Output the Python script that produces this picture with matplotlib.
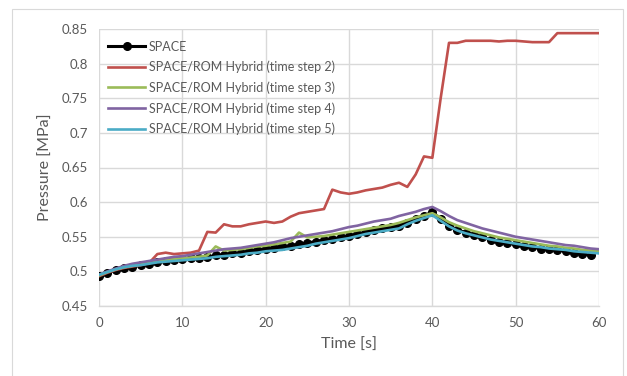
import matplotlib
matplotlib.use("Agg")
import matplotlib.pyplot as plt
from matplotlib.patches import Rectangle

# ── Data ──────────────────────────────────────────────────────────────────────
t_space = list(range(0, 60))
space = [0.493, 0.498, 0.502, 0.505, 0.507, 0.509, 0.511, 0.513, 0.515, 0.517,
         0.518, 0.519, 0.520, 0.521, 0.523, 0.524, 0.526, 0.527, 0.529, 0.531,
         0.533, 0.534, 0.536, 0.537, 0.539, 0.541, 0.543, 0.545, 0.547, 0.549,
         0.551, 0.554, 0.557, 0.560, 0.562, 0.564, 0.566, 0.570, 0.576, 0.580,
         0.586, 0.575, 0.566, 0.560, 0.556, 0.553, 0.549, 0.546, 0.543, 0.541,
         0.539, 0.537, 0.535, 0.533, 0.532, 0.531, 0.529, 0.527, 0.525, 0.523]

t_rom = list(range(0, 61))
rom_ts2 = [0.493, 0.498, 0.502, 0.505, 0.507, 0.509, 0.512, 0.525, 0.527, 0.525,
           0.526, 0.527, 0.530, 0.557, 0.556, 0.568, 0.565, 0.565, 0.568, 0.570,
           0.572, 0.570, 0.572, 0.579, 0.584, 0.586, 0.588, 0.590, 0.618, 0.614,
           0.612, 0.614, 0.617, 0.619, 0.621, 0.625, 0.628, 0.622, 0.640, 0.666,
           0.664, 0.750, 0.830, 0.830, 0.833, 0.833, 0.833, 0.833, 0.832, 0.833,
           0.833, 0.832, 0.831, 0.831, 0.831, 0.844, 0.844, 0.844, 0.844, 0.844,
           0.844]
rom_ts3 = [0.494, 0.499, 0.503, 0.506, 0.508, 0.510, 0.512, 0.514, 0.516, 0.518,
           0.519, 0.520, 0.521, 0.523, 0.536, 0.530, 0.531, 0.532, 0.534, 0.536,
           0.537, 0.539, 0.541, 0.543, 0.556, 0.549, 0.550, 0.551, 0.553, 0.555,
           0.557, 0.559, 0.561, 0.563, 0.565, 0.567, 0.570, 0.574, 0.578, 0.581,
           0.584, 0.578, 0.571, 0.566, 0.562, 0.558, 0.555, 0.552, 0.549, 0.547,
           0.545, 0.543, 0.541, 0.539, 0.537, 0.536, 0.534, 0.533, 0.531, 0.530,
           0.529]
rom_ts4 = [0.495, 0.500, 0.504, 0.508, 0.511, 0.513, 0.515, 0.517, 0.519, 0.521,
           0.522, 0.524, 0.526, 0.528, 0.530, 0.532, 0.533, 0.534, 0.536, 0.538,
           0.540, 0.542, 0.545, 0.548, 0.550, 0.552, 0.554, 0.556, 0.558, 0.561,
           0.564, 0.566, 0.569, 0.572, 0.574, 0.576, 0.580, 0.583, 0.586, 0.590,
           0.593, 0.587, 0.580, 0.574, 0.570, 0.566, 0.562, 0.559, 0.556, 0.553,
           0.550, 0.548, 0.546, 0.544, 0.542, 0.540, 0.538, 0.537, 0.535, 0.533,
           0.532]
rom_ts5 = [0.495, 0.499, 0.503, 0.506, 0.508, 0.509, 0.511, 0.513, 0.514, 0.515,
           0.516, 0.517, 0.518, 0.519, 0.521, 0.522, 0.523, 0.524, 0.526, 0.527,
           0.529, 0.530, 0.531, 0.533, 0.535, 0.537, 0.540, 0.542, 0.544, 0.546,
           0.548, 0.551, 0.554, 0.556, 0.558, 0.560, 0.562, 0.568, 0.573, 0.577,
           0.581, 0.573, 0.565, 0.559, 0.555, 0.552, 0.549, 0.546, 0.544, 0.542,
           0.540, 0.538, 0.536, 0.535, 0.533, 0.532, 0.531, 0.529, 0.528, 0.527,
           0.526]

x_ticks = [0, 10, 20, 30, 40, 50, 60]
y_ticks = [0.45, 0.5, 0.55, 0.6, 0.65, 0.7, 0.75, 0.8, 0.85]
y_labels = ["0.45", "0.5", "0.55", "0.6", "0.65", "0.7", "0.75", "0.8", "0.85"]

# ── Figure ────────────────────────────────────────────────────────────────────
plt.rcParams["font.family"] = ["Lato", "DejaVu Sans"]
TXT = "#595959"
GRID = "#d9d9d9"

fig = plt.figure(figsize=(6.27, 3.76), dpi=100)
fig.patches.append(Rectangle((12/627, -0.1), (623-12)/627, 1.1 - 9/376,
                             transform=fig.transFigure, fill=False,
                             edgecolor=GRID, linewidth=0.8))
ax = fig.add_axes([99/627, 1 - 306/376, 500/627, 277/376])

lw = 1.9
ax.plot(t_space, space, "o-", color="black", linewidth=lw + 0.3, markersize=5.5,
        label="SPACE", zorder=3)
ax.plot(t_rom, rom_ts2, color="#c0504d", linewidth=lw,
        label="SPACE/ROM Hybrid (time step 2)", zorder=4)
ax.plot(t_rom, rom_ts3, color="#9bbb59", linewidth=lw,
        label="SPACE/ROM Hybrid (time step 3)", zorder=5)
ax.plot(t_rom, rom_ts4, color="#8064a2", linewidth=lw,
        label="SPACE/ROM Hybrid (time step 4)", zorder=6)
ax.plot(t_rom, rom_ts5, color="#4bacc6", linewidth=lw,
        label="SPACE/ROM Hybrid (time step 5)", zorder=7)

ax.set_xlim(0, 60); ax.set_ylim(0.45, 0.85)
ax.set_xticks(x_ticks); ax.set_yticks(y_ticks); ax.set_yticklabels(y_labels)
ax.grid(True, color=GRID, linewidth=1.0, zorder=0)
ax.set_axisbelow(True)
for s in ["top", "right", "left"]:
    ax.spines[s].set_visible(False)
ax.spines["bottom"].set_color(GRID); ax.spines["bottom"].set_linewidth(1.0)
ax.tick_params(length=0, labelsize=9.5, colors=TXT, pad=8)
ax.set_xlabel("Time [s]", fontsize=11.5, color=TXT, labelpad=6)
ax.set_ylabel("Pressure [MPa]", fontsize=11.5, color=TXT, labelpad=6)

leg = ax.legend(loc="upper left", bbox_to_anchor=(0.0, 0.99), frameon=False,
                fontsize=9, handlelength=3.0, handletextpad=0.3,
                labelspacing=0.65, borderaxespad=0.3)
for txt in leg.get_texts():
    txt.set_color(TXT)

fig.savefig("out.png", dpi=100)
